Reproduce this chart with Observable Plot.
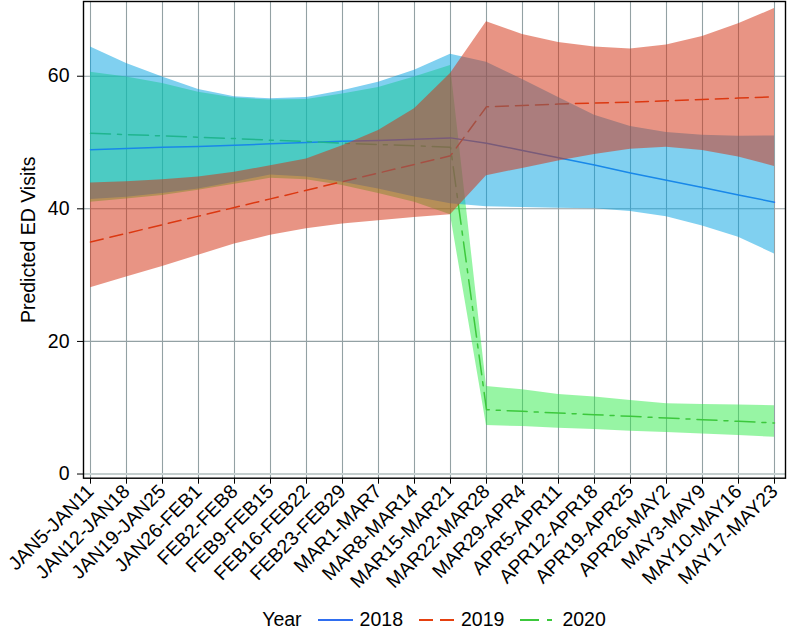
<!DOCTYPE html>
<html>
<head>
<meta charset="utf-8">
<script src="https://cdn.jsdelivr.net/npm/d3@7"></script>
<script src="https://cdn.jsdelivr.net/npm/@observablehq/plot@0.6"></script>
<style>
  body { margin: 0; background: #fff; font-family: "Liberation Sans", Arial, Helvetica, sans-serif; }
  #chart svg { display: block; }
  #legend { width: 702px; margin-left: 83px; display: flex; justify-content: center; align-items: center; height: 31px; padding-top: 4px; font-size: 19.5px; color: #000; }
  #legend .item { display: flex; align-items: center; }
  #legend svg { display: block; }
</style>
</head>
<body>
<div id="chart"></div>
<div id="legend"></div>
<script>
const weeks = ["JAN5-JAN11","JAN12-JAN18","JAN19-JAN25","JAN26-FEB1","FEB2-FEB8","FEB9-FEB15","FEB16-FEB22","FEB23-FEB29","MAR1-MAR7","MAR8-MAR14","MAR15-MAR21","MAR22-MAR28","MAR29-APR4","APR5-APR11","APR12-APR18","APR19-APR25","APR26-MAY2","MAY3-MAY9","MAY10-MAY16","MAY17-MAY23"];
const yTicks = [0, 20, 40, 60];
const years = ["2018", "2019", "2020"];

const fit2018 = [48.9,49.1,49.3,49.4,49.6,49.8,50.0,50.2,50.3,50.5,50.7,49.9,48.8,47.7,46.6,45.4,44.3,43.2,42.1,41.0];
const lo2018  = [41.4,41.75,42.3,43.0,44.0,45.1,44.8,44.0,43.0,41.8,40.75,40.3,40.2,40.1,40.0,39.6,38.8,37.4,35.7,33.2];
const hi2018  = [64.4,61.9,59.9,58.0,56.9,56.6,56.8,57.8,59.1,60.9,63.3,62.1,59.5,56.8,54.1,52.4,51.5,51.1,50.95,51.0];

const fit2019 = [35.0,36.3,37.6,38.9,40.2,41.5,42.8,44.1,45.4,46.7,48.0,55.4,55.6,55.8,55.95,56.1,56.3,56.5,56.7,56.9];
const lo2019  = [28.1,29.7,31.3,33.0,34.7,36.0,37.0,37.7,38.2,38.7,39.1,45.0,46.1,47.2,48.2,49.0,49.3,48.8,47.8,46.4];
const hi2019  = [43.9,44.1,44.4,44.8,45.5,46.5,47.5,49.5,51.8,55.1,60.4,68.2,66.3,65.1,64.4,64.1,64.7,66.0,67.9,70.2];

const fit2020 = [51.4,51.2,51.0,50.8,50.6,50.35,50.15,49.9,49.7,49.5,49.3,9.7,9.45,9.2,8.95,8.7,8.45,8.2,7.95,7.7];
const lo2020  = [41.0,41.5,42.0,42.8,43.7,44.6,44.4,43.5,42.3,41.0,39.1,7.3,7.15,6.9,6.7,6.45,6.25,6.05,5.8,5.55];
const hi2020  = [60.6,59.9,58.9,57.6,56.7,56.4,56.5,57.3,58.3,59.9,61.6,13.2,12.7,12.0,11.6,11.1,10.6,10.5,10.4,10.3];

const rows = (fit, lo, hi) => weeks.map((w, i) => ({week: w, fit: fit[i], lo: lo[i], hi: hi[i]}));
const d2018 = rows(fit2018, lo2018, hi2018);
const d2019 = rows(fit2019, lo2019, hi2019);
const d2020 = rows(fit2020, lo2020, hi2020);

const style = {
  "2018": {line: "#2f6ef0", band: "#02a2e2", dash: null, legendDash: null},
  "2019": {line: "#e5400f", band: "#d23214", dash: "13,7", legendDash: "14,7"},
  "2020": {line: "#3cc83c", band: "#30eb4a", dash: "20,7,4,7", legendDash: "19,8,5,8"}
};
const grid = "#93a1a4";
const op = 0.5;

const chart = Plot.plot({
  width: 790,
  height: 600,
  marginLeft: 83,
  marginRight: 5,
  marginTop: 1,
  marginBottom: 122.3,
  style: {fontFamily: '"Liberation Sans", Arial, Helvetica, sans-serif', fontSize: "19.5px", background: "#fff", color: "#000"},
  x: {type: "point", domain: weeks, padding: 0.13, align: 0.4},
  y: {domain: [-0.63, 71.27]},
  marks: [
    Plot.ruleX(weeks, {stroke: grid, strokeWidth: 1.1}),
    Plot.ruleY([20, 40, 60], {stroke: grid, strokeWidth: 1.1}),
    Plot.ruleY([0], {stroke: "#c5cfcf", strokeWidth: 2.2}),
    Plot.areaY(d2020, {x: "week", y1: "lo", y2: "hi", fill: style["2020"].band, fillOpacity: op}),
    Plot.lineY(d2018, {x: "week", y: "fit", stroke: style["2018"].line, strokeWidth: 1.5}),
    Plot.lineY(d2019, {x: "week", y: "fit", stroke: style["2019"].line, strokeWidth: 1.5, strokeDasharray: style["2019"].dash}),
    Plot.lineY(d2020, {x: "week", y: "fit", stroke: style["2020"].line, strokeWidth: 1.5, strokeDasharray: style["2020"].dash}),
    Plot.areaY(d2018, {x: "week", y1: "lo", y2: "hi", fill: style["2018"].band, fillOpacity: op}),
    Plot.areaY(d2019, {x: "week", y1: "lo", y2: "hi", fill: style["2019"].band, fillOpacity: 0.52}),
    Plot.frame({stroke: "#000", strokeWidth: 1.4}),
    Plot.axisX({tickRotate: -45, tickSize: 6, tickPadding: 4, fontSize: 19.5, label: null}),
    Plot.axisY({ticks: yTicks, tickSize: 6, tickPadding: 8, fontSize: 19.5, label: "Predicted ED Visits", labelAnchor: "center", labelArrow: "none", labelOffset: 62})
  ]
});
document.getElementById("chart").appendChild(chart);

// legend
const legend = document.getElementById("legend");
const title = document.createElement("span");
title.textContent = "Year";
title.style.marginRight = "16px";
legend.appendChild(title);
years.forEach((y, k) => {
  const item = document.createElement("span");
  item.className = "item";
  if (k > 0) item.style.marginLeft = "16px";
  const s = style[y];
  item.innerHTML = `<svg width="35" height="10"><line x1="0" x2="35" y1="5" y2="5" stroke="${s.line}" stroke-width="1.8" ${s.legendDash ? `stroke-dasharray="${s.legendDash}"` : ""}/></svg><span style="margin-left:7px">${y}</span>`;
  legend.appendChild(item);
});
</script>
</body>
</html>
